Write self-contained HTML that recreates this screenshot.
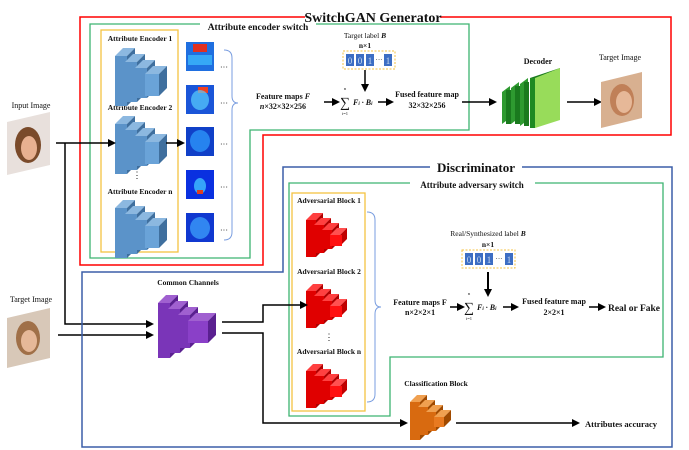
<!DOCTYPE html><html><head><meta charset="utf-8"><style>
html,body{margin:0;padding:0;background:#fff}
svg{display:block}
text{font-family:"Liberation Serif",serif;fill:#111}
.b{font-weight:bold}
</style></head><body>
<svg width="689" height="450" viewBox="0 0 689 450" xmlns="http://www.w3.org/2000/svg">
<defs>
<marker id="ar" markerWidth="8" markerHeight="8" refX="6" refY="4" orient="auto" markerUnits="userSpaceOnUse"><path d="M0,0 L8,4 L0,8 Z" fill="#000"/></marker>
<g id="blue">
 <g><polygon points="0,12 8,4 20,4 12,12" fill="#8cb8e0"/><polygon points="12,12 20,4 20,54 12,62" fill="#3f6f9e"/><rect x="0" y="12" width="12" height="50" fill="#5b93c9"/></g>
 <g><polygon points="10,18 18,10 30,10 22,18" fill="#8cb8e0"/><polygon points="22,18 30,10 30,50 22,58" fill="#3f6f9e"/><rect x="10" y="18" width="12" height="40" fill="#5b93c9"/></g>
 <g><polygon points="20,24 28,16 40,16 32,24" fill="#8cb8e0"/><polygon points="32,24 40,16 40,46 32,54" fill="#3f6f9e"/><rect x="20" y="24" width="12" height="30" fill="#5b93c9"/></g>
 <g><polygon points="30,30 38,22 52,22 44,30" fill="#8cb8e0"/><polygon points="44,30 52,22 52,44 44,52" fill="#3f6f9e"/><rect x="30" y="30" width="14" height="22" fill="#6aa3d8"/></g>
</g>
<g id="red">
 <g><polygon points="0,10 7,3 17,3 10,10" fill="#ff4040"/><polygon points="10,10 17,3 17,40 10,47" fill="#b00000"/><rect x="0" y="10" width="10" height="37" fill="#e00000"/></g>
 <g><polygon points="8,15 15,8 25,8 18,15" fill="#ff4040"/><polygon points="18,15 25,8 25,36 18,43" fill="#b00000"/><rect x="8" y="15" width="10" height="28" fill="#e00000"/></g>
 <g><polygon points="16,20 23,13 33,13 26,20" fill="#ff4040"/><polygon points="26,20 33,13 33,32 26,39" fill="#b00000"/><rect x="16" y="20" width="10" height="19" fill="#e00000"/></g>
 <g><polygon points="24,25 31,18 41,18 34,25" fill="#ff5050"/><polygon points="34,25 41,18 41,29 34,36" fill="#c00000"/><rect x="24" y="25" width="12" height="11" fill="#ff1010"/></g>
</g>
</defs>

<!-- Generator red frame -->
<polyline points="305,17 80,17 80,265 263,265 263,135 671,135 671,17 440,17" fill="none" stroke="#f00" stroke-width="1.5"/>
<text x="373" y="22" class="b" font-size="14" text-anchor="middle">SwitchGAN Generator</text>
<!-- encoder switch green -->
<polyline points="200,24 90,24 90,258 250,258 250,130 469,130 469,24 316,24" fill="none" stroke="#3cb371" stroke-width="1.3"/>
<text x="258" y="30" class="b" font-size="9.5" text-anchor="middle">Attribute encoder switch</text>
<rect x="101" y="30" width="77" height="222" fill="none" stroke="#f5c242" stroke-width="1.3"/>
<text x="140" y="41" class="b" font-size="7.5" text-anchor="middle">Attribute Encoder 1</text>
<text x="140" y="110" class="b" font-size="7.5" text-anchor="middle">Attribute Encoder 2</text>
<text x="140" y="194" class="b" font-size="7.5" text-anchor="middle">Attribute Encoder n</text>
<text x="137" y="178" font-size="9" text-anchor="middle">⋮</text>
<use href="#blue" x="115" y="44"/>
<use href="#blue" x="115" y="112"/>
<use href="#blue" x="115" y="196"/>
<!-- heatmaps -->
<g>
<rect x="186" y="42" width="28" height="29" fill="#1f6fe0"/><rect x="193" y="44" width="14" height="8" fill="#e03020"/><rect x="188" y="55" width="24" height="10" fill="#40c0ff" opacity=".7"/>
<rect x="186" y="85" width="28" height="29" fill="#1a55d8"/><rect x="198" y="87" width="10" height="6" fill="#f04020"/><ellipse cx="200" cy="100" rx="9" ry="10" fill="#5ad0ff" opacity=".7"/>
<rect x="186" y="127" width="28" height="29" fill="#1040c8"/><ellipse cx="200" cy="141" rx="10" ry="11" fill="#30a0ff" opacity=".7"/>
<rect x="186" y="170" width="28" height="29" fill="#0a30e0"/><ellipse cx="200" cy="186" rx="6" ry="8" fill="#40c0ff" opacity=".8"/><rect x="197" y="190" width="6" height="4" fill="#e04020"/>
<rect x="186" y="213" width="28" height="29" fill="#1038d0"/><ellipse cx="200" cy="228" rx="10" ry="11" fill="#40a8ff" opacity=".7"/>
</g>
<g font-size="8" fill="#333"><text x="220" y="70">···</text><text x="220" y="106">···</text><text x="220" y="147">···</text><text x="220" y="190">···</text><text x="220" y="233">···</text></g>
<path d="M224,50 Q232,50 232,58 L232,96 Q232,103 238,103 Q232,103 232,110 L232,232 Q232,240 224,240" fill="none" stroke="#7a9ee0" stroke-width="1"/>
<text x="283" y="99" class="b" font-size="8" text-anchor="middle">Feature maps <tspan font-style="italic">F</tspan></text>
<text x="283" y="109" class="b" font-size="8" text-anchor="middle"><tspan font-style="italic">n</tspan>×32×32×256</text>
<line x1="324" y1="102" x2="338" y2="102" stroke="#000" stroke-width="1.5" marker-end="url(#ar)"/>
<text x="345" y="107" font-size="14" text-anchor="middle">∑</text>
<text x="345" y="90" font-size="4.5" text-anchor="middle">n</text>
<text x="345" y="115" font-size="4.5" text-anchor="middle">i=1</text>
<text x="353" y="105" class="b" font-size="8" font-style="italic">F<tspan font-size="5">i</tspan> · B<tspan font-size="5">i</tspan></text>
<line x1="378" y1="102" x2="392" y2="102" stroke="#000" stroke-width="1.5" marker-end="url(#ar)"/>
<text x="427" y="97" class="b" font-size="8" text-anchor="middle">Fused feature map</text>
<text x="427" y="108" class="b" font-size="8" text-anchor="middle">32×32×256</text>
<text x="365" y="38" font-size="7.5" text-anchor="middle">Target label <tspan font-style="italic" font-weight="bold">B</tspan></text>
<text x="365" y="48" class="b" font-size="7.5" text-anchor="middle">n×1</text>
<rect x="343" y="51" width="52" height="18" fill="none" stroke="#f5c242" stroke-dasharray="2,1.5"/>
<g fill="#3d6ec4"><rect x="346" y="54" width="8" height="12"/><rect x="356" y="54" width="8" height="12"/><rect x="366" y="54" width="8" height="12"/><rect x="384" y="54" width="8" height="12"/></g>
<g font-size="9" font-family="Liberation Sans" text-anchor="middle"><text x="350" y="64" style="fill:#cde">0</text><text x="360" y="64" style="fill:#cde">0</text><text x="370" y="64" style="fill:#cde">1</text><text x="379" y="62" style="fill:#333" font-size="7">···</text><text x="388" y="64" style="fill:#cde">1</text></g>
<line x1="365" y1="70" x2="365" y2="90" stroke="#000" stroke-width="1.5" marker-end="url(#ar)"/>
<line x1="462" y1="102" x2="495" y2="102" stroke="#000" stroke-width="1.5" marker-end="url(#ar)"/>
<text x="538" y="64" class="b" font-size="8" text-anchor="middle">Decoder</text>
<g>
<polygon points="502,92 510,86 510,118 502,124" fill="#2e9a30"/><rect x="506" y="90" width="5" height="34" fill="#1a7a1e"/>
<polygon points="511,88 519,82 519,118 511,124" fill="#2e9a30"/><rect x="515" y="86" width="5" height="38" fill="#1a7a1e"/>
<polygon points="520,84 528,78 528,120 520,126" fill="#2e9a30"/><rect x="524" y="82" width="5" height="44" fill="#1a7a1e"/>
<polygon points="530,78 560,68 560,118 530,127" fill="#1a7a1e"/><polygon points="535,78 560,68 560,120 535,128" fill="#98dc5a"/><polygon points="530,78 535,78 535,128 530,128" fill="#1e8a22"/>
</g>
<line x1="567" y1="102" x2="600" y2="102" stroke="#000" stroke-width="1.5" marker-end="url(#ar)"/>
<text x="620" y="60" font-size="8" text-anchor="middle">Target Image</text>
<polygon points="601,82 642,72 642,118 601,128" fill="#d8b090"/><ellipse cx="622" cy="100" rx="12" ry="16" fill="#c08058"/><ellipse cx="624" cy="102" rx="8" ry="11" fill="#e6b898"/>
<!-- input image -->
<text x="31" y="108" font-size="8" text-anchor="middle">Input Image</text>
<polygon points="7,122 50,112 50,165 7,175" fill="#e8e0dc"/><ellipse cx="28" cy="145" rx="13" ry="18" fill="#7a4a2a"/><ellipse cx="29" cy="148" rx="8" ry="12" fill="#e8b090"/>
<line x1="56" y1="143" x2="114" y2="143" stroke="#000" stroke-width="1.5" marker-end="url(#ar)"/>
<line x1="166" y1="143" x2="183" y2="143" stroke="#000" stroke-width="1.5" marker-end="url(#ar)"/>
<polyline points="65,143 65,324 152,324" fill="none" stroke="#000" stroke-width="1.5" marker-end="url(#ar)"/>
<text x="31" y="302" font-size="8" text-anchor="middle">Target Image</text>
<polygon points="7,318 50,308 50,358 7,368" fill="#d8c8b8"/><ellipse cx="28" cy="338" rx="12" ry="17" fill="#a07048"/><ellipse cx="29" cy="341" rx="8" ry="11" fill="#e6b898"/>
<line x1="58" y1="335" x2="152" y2="335" stroke="#000" stroke-width="1.5" marker-end="url(#ar)"/>

<!-- Discriminator -->
<polyline points="430,167 283,167 283,272 82,272 82,447 672,447 672,167 522,167" fill="none" stroke="#3b5ea8" stroke-width="1.5"/>
<text x="476" y="172" class="b" font-size="13" text-anchor="middle">Discriminator</text>
<polyline points="410,183 289,183 289,416 390,416 390,357 663,357 663,183 535,183" fill="none" stroke="#3cb371" stroke-width="1.3"/>
<text x="472" y="188" class="b" font-size="9" text-anchor="middle">Attribute adversary switch</text>
<rect x="292" y="193" width="73" height="218" fill="none" stroke="#f5c242" stroke-width="1.3"/>
<text x="329" y="203" class="b" font-size="7.5" text-anchor="middle">Adversarial Block 1</text>
<text x="329" y="274" class="b" font-size="7.5" text-anchor="middle">Adversarial Block 2</text>
<text x="329" y="354" class="b" font-size="7.5" text-anchor="middle">Adversarial Block n</text>
<text x="329" y="340" font-size="9" text-anchor="middle">⋮</text>
<use href="#red" x="306" y="210"/>
<use href="#red" x="306" y="281"/>
<use href="#red" x="306" y="361"/>
<path d="M367,212 Q375,212 375,220 L375,300 Q375,307 381,307 Q375,307 375,314 L375,394 Q375,402 367,402" fill="none" stroke="#7a9ee0" stroke-width="1"/>
<text x="420" y="305" class="b" font-size="8" text-anchor="middle">Feature maps F</text>
<text x="420" y="315" class="b" font-size="8" text-anchor="middle">n×2×2×1</text>
<line x1="450" y1="307" x2="463" y2="307" stroke="#000" stroke-width="1.5" marker-end="url(#ar)"/>
<text x="469" y="312" font-size="14" text-anchor="middle">∑</text>
<text x="469" y="295" font-size="4.5" text-anchor="middle">n</text>
<text x="469" y="320" font-size="4.5" text-anchor="middle">i=1</text>
<text x="477" y="310" class="b" font-size="8" font-style="italic">F<tspan font-size="5">i</tspan> · B<tspan font-size="5">i</tspan></text>
<line x1="503" y1="307" x2="517" y2="307" stroke="#000" stroke-width="1.5" marker-end="url(#ar)"/>
<text x="554" y="304" class="b" font-size="8" text-anchor="middle">Fused feature map</text>
<text x="554" y="315" class="b" font-size="8" text-anchor="middle">2×2×1</text>
<line x1="589" y1="307" x2="604" y2="307" stroke="#000" stroke-width="1.5" marker-end="url(#ar)"/>
<text x="634" y="311" class="b" font-size="9.5" text-anchor="middle">Real or Fake</text>
<text x="488" y="236" font-size="7.5" text-anchor="middle">Real/Synthesized label <tspan font-style="italic" font-weight="bold">B</tspan></text>
<text x="488" y="247" class="b" font-size="7.5" text-anchor="middle">n×1</text>
<rect x="462" y="250" width="53" height="18" fill="none" stroke="#f5c242" stroke-dasharray="2,1.5"/>
<g fill="#3d6ec4"><rect x="465" y="253" width="8" height="12"/><rect x="475" y="253" width="8" height="12"/><rect x="485" y="253" width="8" height="12"/><rect x="505" y="253" width="8" height="12"/></g>
<g font-size="9" font-family="Liberation Sans" text-anchor="middle"><text x="469" y="263" style="fill:#cde">0</text><text x="479" y="263" style="fill:#cde">0</text><text x="489" y="263" style="fill:#cde">1</text><text x="499" y="261" style="fill:#333" font-size="7">···</text><text x="509" y="263" style="fill:#cde">1</text></g>
<line x1="488" y1="272" x2="488" y2="295" stroke="#000" stroke-width="2" marker-end="url(#ar)"/>
<!-- common channels -->
<text x="188" y="285" class="b" font-size="7.5" text-anchor="middle">Common Channels</text>
<g>
<polygon points="158,303 166,295 178,295 170,303" fill="#a060d0"/><polygon points="170,303 178,295 178,350 170,358" fill="#5a2090"/><rect x="158" y="303" width="12" height="55" fill="#7a35b8"/>
<polygon points="168,309 176,301 188,301 180,309" fill="#a060d0"/><polygon points="180,309 188,301 188,345 180,353" fill="#5a2090"/><rect x="168" y="309" width="12" height="44" fill="#7a35b8"/>
<polygon points="178,315 186,307 198,307 190,315" fill="#a060d0"/><polygon points="190,315 198,307 198,340 190,348" fill="#5a2090"/><rect x="178" y="315" width="12" height="33" fill="#7a35b8"/>
<polygon points="188,321 196,313 216,313 208,321" fill="#a060d0"/><polygon points="208,321 216,313 216,335 208,343" fill="#5a2090"/><rect x="188" y="321" width="20" height="22" fill="#8a40c8"/>
</g>
<polyline points="222,322 263,322 263,305 306,305" fill="none" stroke="#000" stroke-width="1.5" marker-end="url(#ar)"/>
<polyline points="222,333 263,333 263,423 406,423" fill="none" stroke="#000" stroke-width="1.5" marker-end="url(#ar)"/>
<text x="436" y="386" class="b" font-size="7.5" text-anchor="middle">Classification Block</text>
<g>
<polygon points="410,402 417,395 427,395 420,402" fill="#f0a050"/><polygon points="420,402 427,395 427,433 420,440" fill="#a04a00"/><rect x="410" y="402" width="10" height="38" fill="#d86a10"/>
<polygon points="418,407 425,400 435,400 428,407" fill="#f0a050"/><polygon points="428,407 435,400 435,428 428,435" fill="#a04a00"/><rect x="418" y="407" width="10" height="28" fill="#d86a10"/>
<polygon points="426,412 433,405 443,405 436,412" fill="#f0a050"/><polygon points="436,412 443,405 443,424 436,431" fill="#a04a00"/><rect x="426" y="412" width="10" height="19" fill="#d86a10"/>
<polygon points="434,417 441,410 451,410 444,417" fill="#f0a050"/><polygon points="444,417 451,410 451,420 444,427" fill="#a04a00"/><rect x="434" y="417" width="10" height="10" fill="#e87a20"/>
</g>
<line x1="456" y1="423" x2="578" y2="423" stroke="#000" stroke-width="1.5" marker-end="url(#ar)"/>
<text x="621" y="427" class="b" font-size="8.5" text-anchor="middle">Attributes accuracy</text>
</svg>
</body></html>
